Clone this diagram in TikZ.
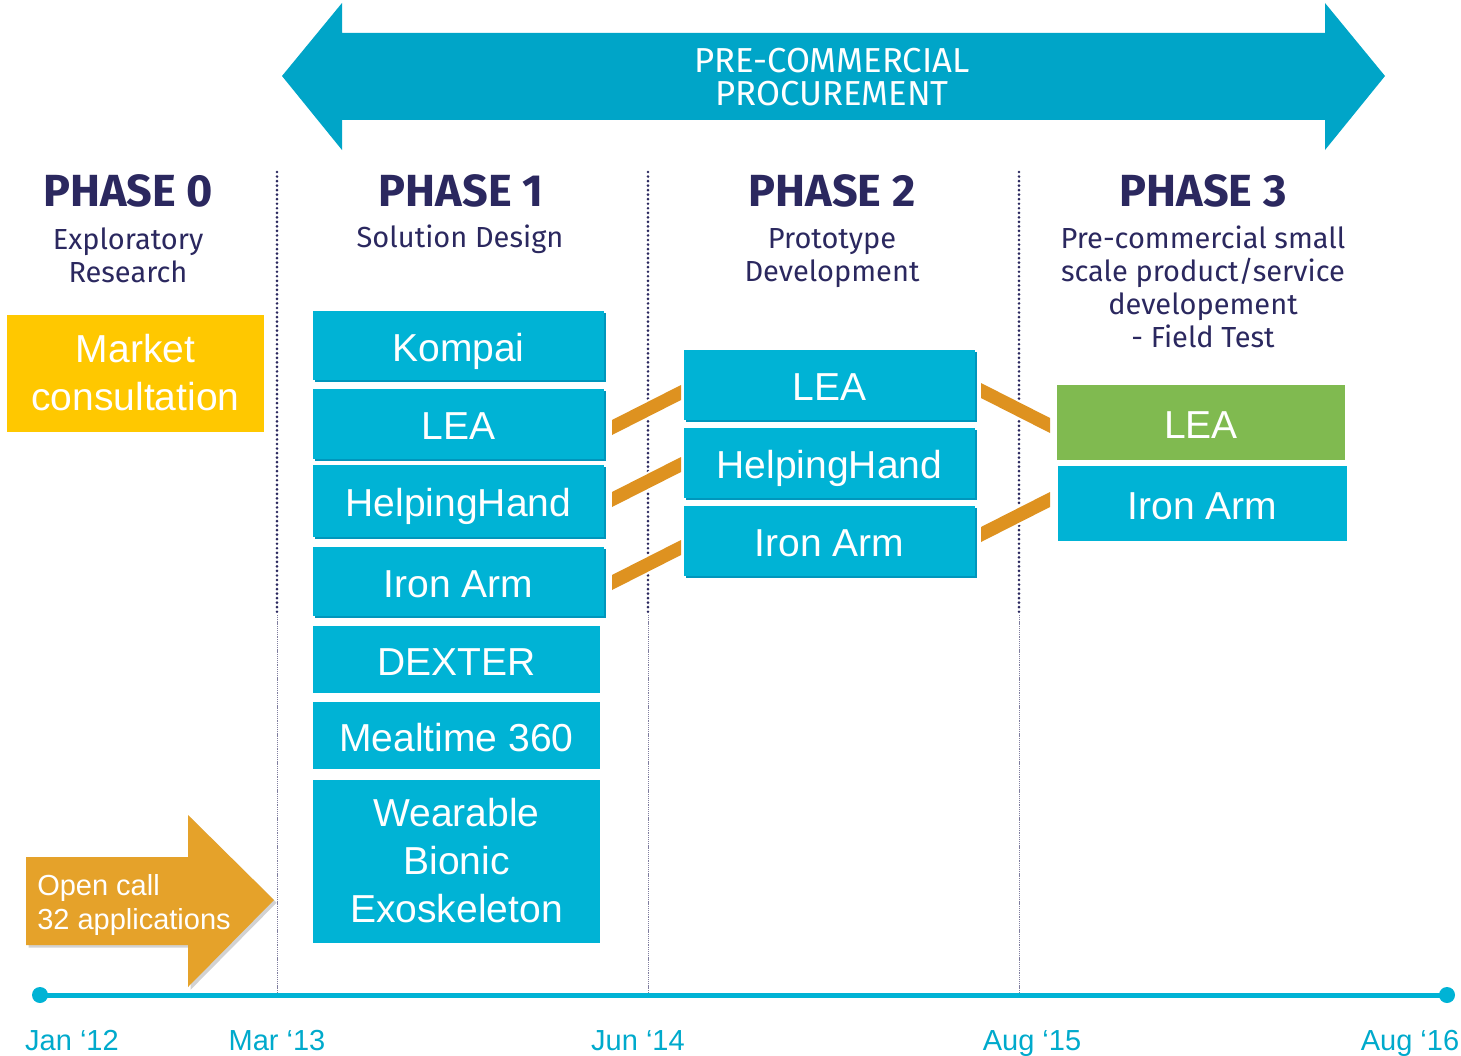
\documentclass[tikz,border=0pt]{standalone}
\usepackage{fontspec}
\setmainfont{Fira Sans}
\newfontfamily\arialf{Liberation Sans}
\usetikzlibrary{shadows,calc}
\definecolor{navy}{RGB}{43,40,95}
\definecolor{bigarrow}{RGB}{0,165,200}
\definecolor{cbox}{RGB}{0,179,213}
\definecolor{cshade}{RGB}{0,150,188}
\definecolor{lime}{RGB}{128,186,80}
\definecolor{yel}{RGB}{255,200,0}
\definecolor{orng}{RGB}{222,146,32}
\definecolor{callor}{RGB}{229,162,42}
\definecolor{datec}{RGB}{0,170,204}
\newcommand\pxu{0.75pt}
\newcommand\linkbar[4]{%
  \fill[orng,preaction={draw=white,line width=3pt}] ($(#1)+(#2)$) -- ($(#3)+(#4)$) -- ($(#3)+(#4)+(0,15)$) -- ($(#1)+(#2)+(0,15)$) -- cycle;}
\begin{document}
\begin{tikzpicture}[x=0.75pt,y=-0.75pt,
  box/.style={fill=cbox, inner sep=0pt, outer sep=0pt, text=white, align=center,
    font=\arialf\fontsize{29.25pt}{36pt}\selectfont, minimum width=291*\pxu},
  one/.style={text height=23.5pt, text depth=0pt},
  shbox/.style={box, one, general shadow={fill=cshade, shadow xshift=1.5pt, shadow yshift=-1.5pt}},
  phase/.style={text=navy, font=\bfseries\fontsize{33.75pt}{40pt}\selectfont, inner sep=0pt},
  sub/.style={text=navy, font=\fontsize{21.75pt}{24.75pt}\selectfont, align=center, inner sep=0pt},
  vline/.style={navy, line width=2.2pt, dash pattern=on 0pt off 3.4pt, line cap=round},
  vthin/.style={navy!60, line width=0.4pt, dash pattern=on 0.8pt off 0.6pt},
  datelbl/.style={text=datec, font=\arialf\fontsize{21.75pt}{26pt}\selectfont, inner sep=0pt, anchor=base},
]
\useasboundingbox (0,0) rectangle (1461,1056);
\fill[white] (0,0) rectangle (1461,1056);

% big double arrow
\fill[bigarrow] (282,76) -- (342,3) -- (342,33) -- (1325,33) -- (1325,3) -- (1385,76)
  -- (1325,150) -- (1325,120) -- (342,120) -- (342,150) -- cycle;
\node[text=white, align=center, inner sep=0pt, font=\fontsize{26pt}{24.75pt}\selectfont] (pcp) at (832,77) {PRE-COMMERCIAL\\PROCUREMENT};

% vertical separators
\foreach \xx/\nm in {277/a,648/b,1019/c}{
  \coordinate (\nm top) at (\xx,172);
  \coordinate (\nm mid) at (\xx,615);
  \coordinate (\nm bot) at (\xx,995);
  \draw[vline] (\nm top) -- (\nm mid);
  \draw[vthin] (\nm mid) -- (\nm bot);
}

% headers
\node[phase] (ph0) at (128,191) {PHASE 0};
\node[sub] (s0) at (128,255) {Exploratory\\Research};
\node[phase] (ph1) at (461,191) {PHASE 1};
\node[sub] (s1) at (460,239) {Solution Design};
\node[phase] (ph2) at (832,191) {PHASE 2};
\node[sub] (s2) at (832,258) {Prototype\\Development};
\node[phase] (ph3) at (1203,191) {PHASE 3};
\node[sub] (s3) at (1203,287) {Pre-commercial small\\scale product/service\\developement\\- Field Test};

% phase 0
\node[box, fill=yel, minimum width=257*\pxu, minimum height=117*\pxu] (mc) at (135.5,373) {Market\\consultation};

% phase 1
\node[shbox, minimum height=69*\pxu] (k1) at (458.5,345.5) {Kompai};
\node[shbox, minimum height=70*\pxu] (l1) at (458.5,424) {LEA};
\node[shbox, minimum height=72*\pxu] (h1) at (458.5,501) {HelpingHand};
\node[shbox, minimum height=69*\pxu] (i1) at (458.5,581.5) {Iron Arm};
\node[box, one, minimum width=287*\pxu, minimum height=67*\pxu] (d1) at (456.5,659.5) {DEXTER};
\node[box, one, minimum width=287*\pxu, minimum height=67*\pxu] (m1) at (456.5,735.5) {Mealtime 360};
\node[box, minimum width=287*\pxu, minimum height=163*\pxu] (w1) at (456.5,861) {Wearable\\Bionic\\Exoskeleton};

% phase 2
\node[shbox, minimum height=70*\pxu] (l2) at (829.5,385) {LEA};
\node[shbox, minimum height=70*\pxu] (h2) at (829.5,463) {HelpingHand};
\node[shbox, minimum height=70*\pxu] (i2) at (829.5,541) {Iron Arm};

% phase 3
\node[box, one, fill=lime, minimum width=288*\pxu, minimum height=75*\pxu] (l3) at (1201,422.5) {LEA};
\node[box, one, minimum width=289*\pxu, minimum height=75*\pxu] (i3) at (1202.5,503.5) {Iron Arm};

% connectors
\linkbar{l1.east}{8,-4}{l2.west}{-3,0}
\linkbar{h1.east}{8,-9}{h2.west}{-3,-6}
\linkbar{i1.east}{8,-6.5}{i2.west}{-3,-1}
\linkbar{l2.east}{6,-2}{l3.west}{-7,-4.5}
\linkbar{i2.east}{6,-14}{i3.west}{-8,-11.5}

% open call arrow
\fill[callor, drop shadow={opacity=0.35, shadow xshift=2pt, shadow yshift=-2pt}]
  (26,857) -- (188,857) -- (188,815) -- (274,900) -- (188,987) -- (188,945) -- (26,945) -- cycle;
\node[text=white, anchor=west, align=left, inner sep=0pt, font=\arialf\fontsize{21.75pt}{25.5pt}\selectfont] (oc) at (37,905) {Open call\\32 applications};

% timeline
\coordinate (t0) at (40,995);
\coordinate (t1) at (1447,995);
\draw[cbox, line width=3.75pt] (t0) -- (t1);
\fill[cbox] (t0) circle (6pt);
\fill[cbox] (t1) circle (6pt);

\node[datelbl] (d0) at (72,1050) {Jan ‘12};
\node[datelbl] (d1l) at (277,1050) {Mar ‘13};
\node[datelbl] (d2l) at (638,1050) {Jun ‘14};
\node[datelbl] (d3l) at (1032,1050) {Aug ‘15};
\node[datelbl] (d4l) at (1410,1050) {Aug ‘16};
\end{tikzpicture}
\end{document}
